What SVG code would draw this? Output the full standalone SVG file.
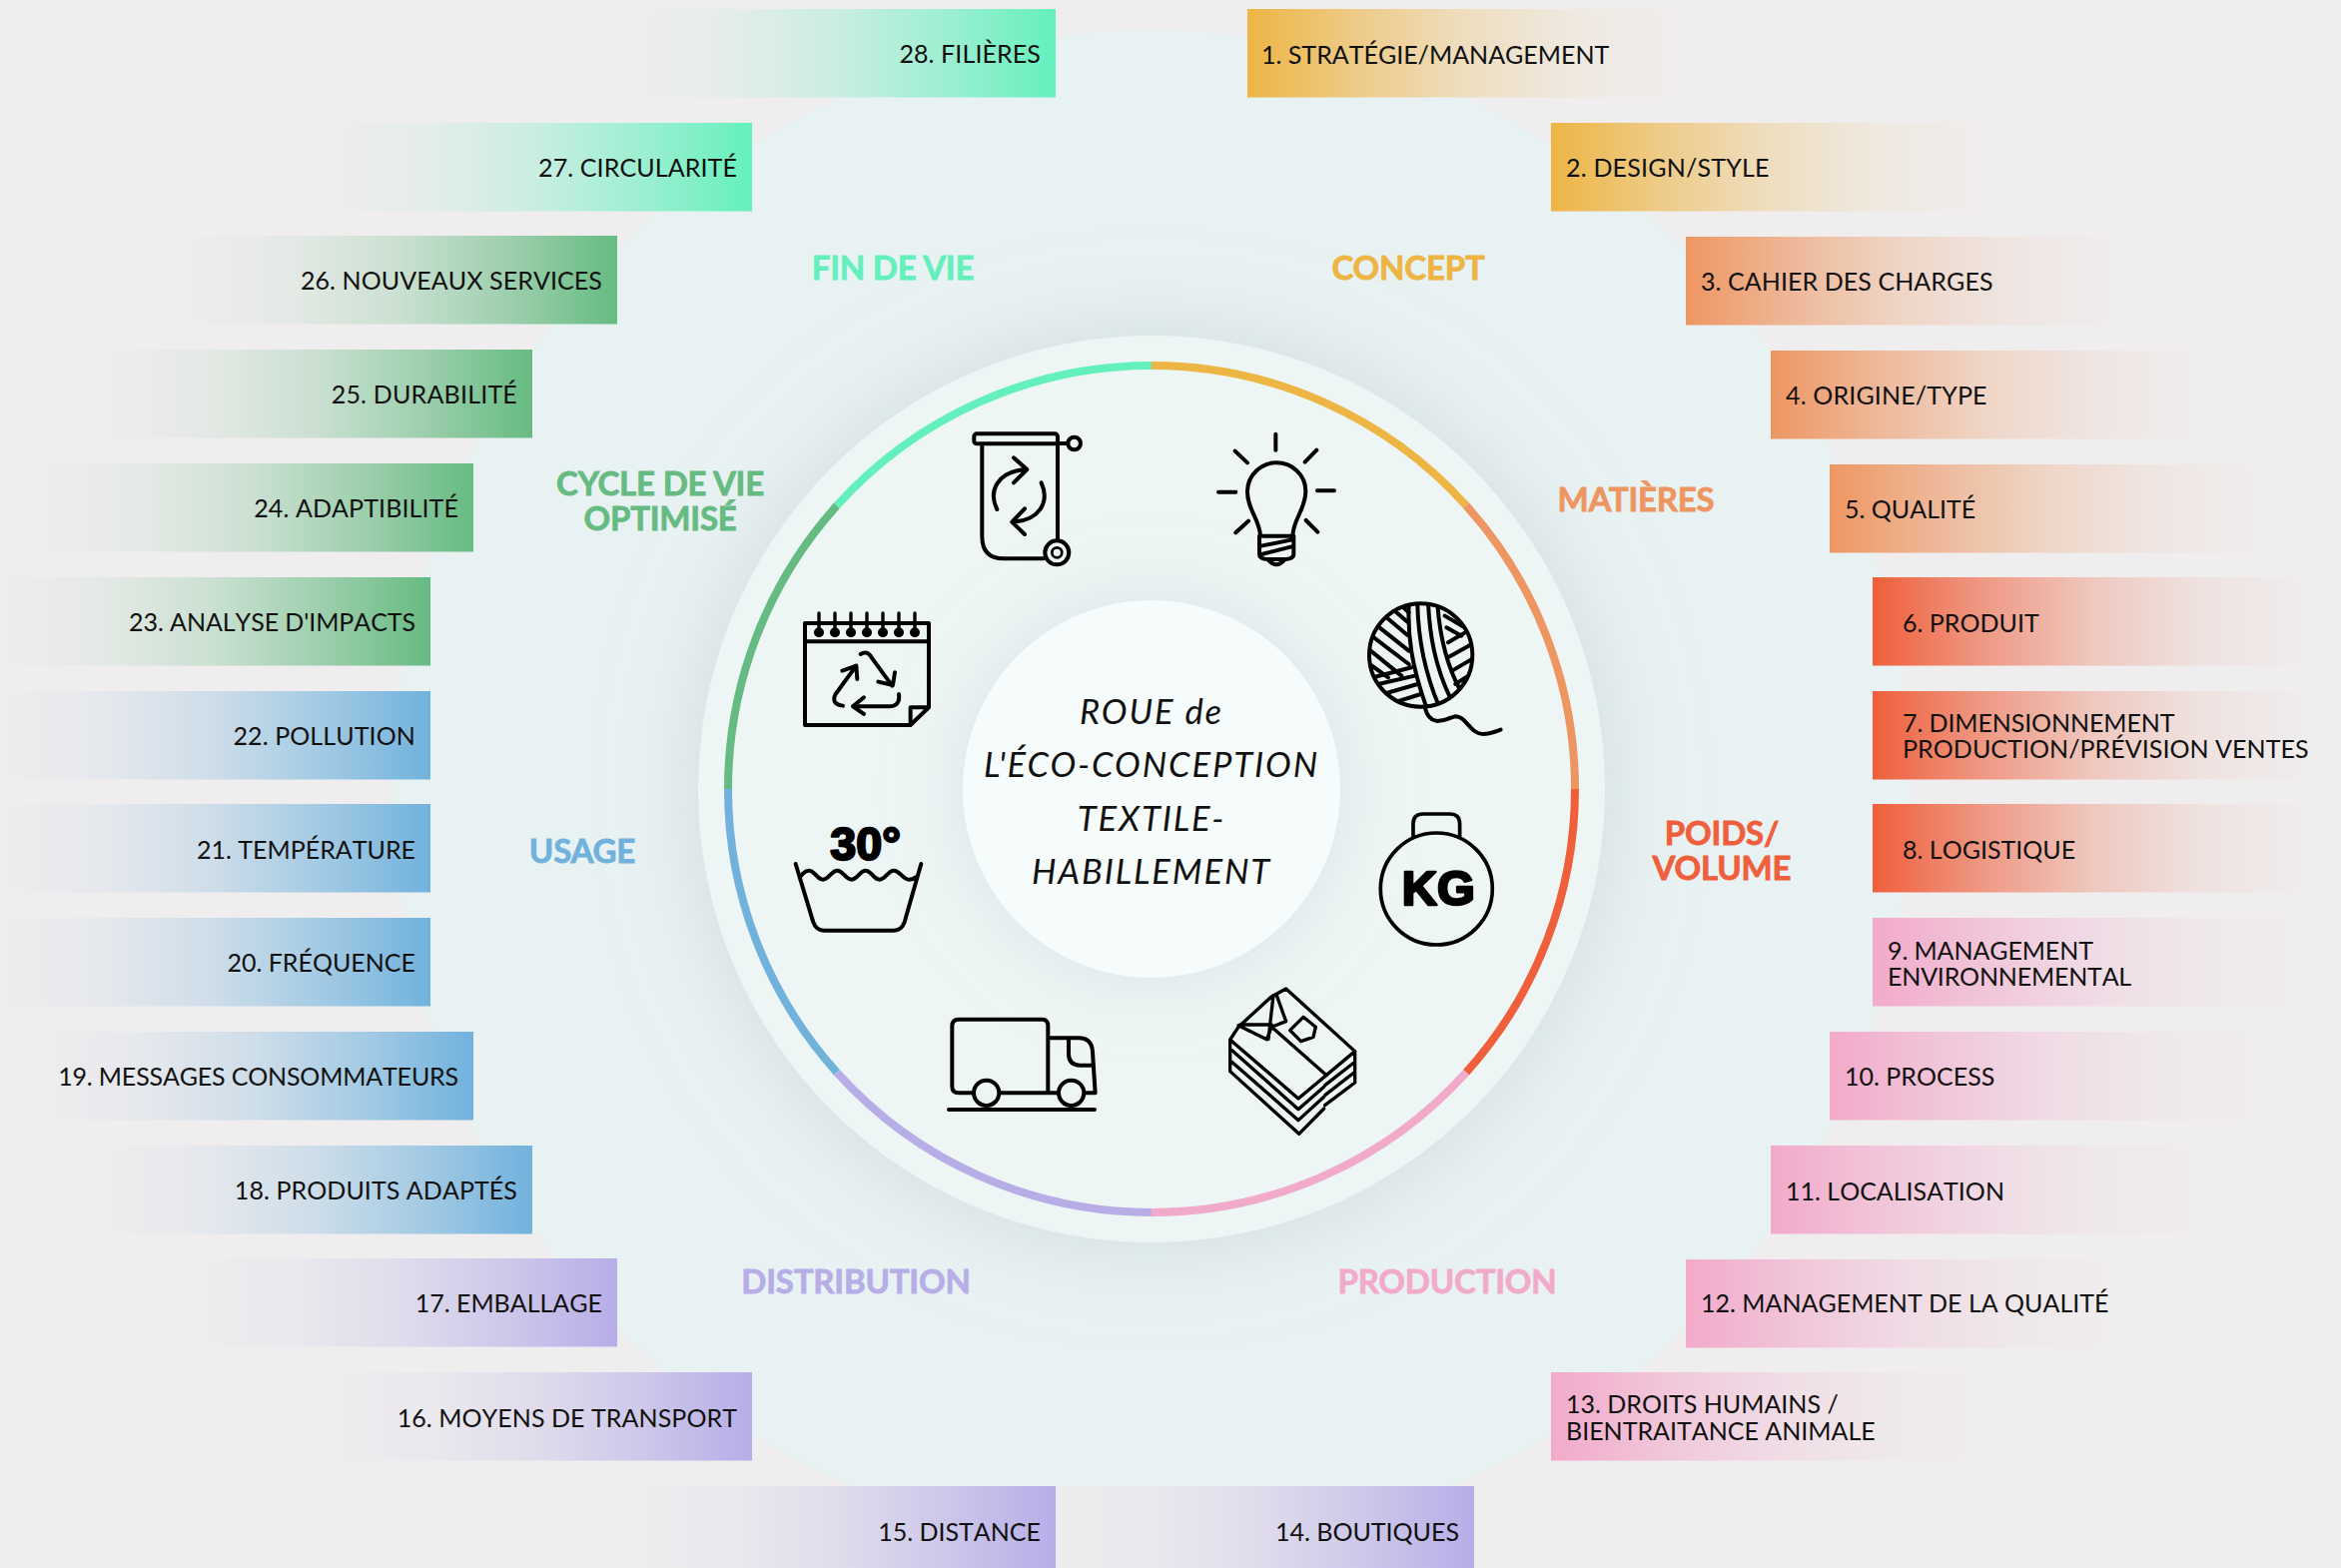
<svg xmlns="http://www.w3.org/2000/svg" width="2344" height="1570" viewBox="0 0 2344 1570">
<defs>
<style>
.bar{font:400 25px Lato,"Liberation Sans",sans-serif;fill:#111;font-kerning:none}
.e{text-anchor:end}
.h{font:700 33px Lato,"Liberation Sans",sans-serif;text-anchor:middle;stroke-width:.8;letter-spacing:-.2px}
.c{font:italic 400 34.5px Lato,"Liberation Sans",sans-serif;text-anchor:middle;fill:#111;letter-spacing:1.9px}
.ic{fill:none;stroke:#000;stroke-linecap:round;stroke-linejoin:round;stroke-width:10}
.arc{fill:none;stroke-width:8}
</style>
<linearGradient id="yR"><stop offset="0" stop-color="#EDB544"/><stop offset=".25" stop-color="#EECB88"/><stop offset=".5" stop-color="#EEDEC0"/><stop offset=".75" stop-color="#EFE9E0"/><stop offset="1" stop-color="#EFEDEE"/></linearGradient>
<linearGradient id="oR"><stop offset="0" stop-color="#EE9662"/><stop offset=".25" stop-color="#EEB99A"/><stop offset=".5" stop-color="#EFD6C8"/><stop offset=".75" stop-color="#EFE6E3"/><stop offset="1" stop-color="#EFEDEE"/></linearGradient>
<linearGradient id="rR"><stop offset="0" stop-color="#EF5F3B"/><stop offset=".25" stop-color="#EF9883"/><stop offset=".5" stop-color="#EFC7BE"/><stop offset=".75" stop-color="#EFE2E0"/><stop offset="1" stop-color="#EFEDEE"/></linearGradient>
<linearGradient id="pR"><stop offset="0" stop-color="#F2AACB"/><stop offset=".25" stop-color="#F1C5D9"/><stop offset=".5" stop-color="#F0DBE5"/><stop offset=".75" stop-color="#EFE8EB"/><stop offset="1" stop-color="#EFEDEE"/></linearGradient>
<linearGradient id="vL" x1="1" x2="0"><stop offset="0" stop-color="#B7AEE8"/><stop offset=".25" stop-color="#CDC7EA"/><stop offset=".5" stop-color="#E0DCEC"/><stop offset=".75" stop-color="#EBE8EE"/><stop offset="1" stop-color="#EFEDEE"/></linearGradient>
<linearGradient id="bL" x1="1" x2="0"><stop offset="0" stop-color="#71B2DD"/><stop offset=".25" stop-color="#A3CAE4"/><stop offset=".5" stop-color="#CDDDE9"/><stop offset=".75" stop-color="#E5E8ED"/><stop offset="1" stop-color="#EFEDEE"/></linearGradient>
<linearGradient id="gL" x1="1" x2="0"><stop offset="0" stop-color="#66BB82"/><stop offset=".25" stop-color="#9DCFAD"/><stop offset=".5" stop-color="#CAE0D1"/><stop offset=".75" stop-color="#E4E9E5"/><stop offset="1" stop-color="#EFEDEE"/></linearGradient>
<linearGradient id="mL" x1="1" x2="0"><stop offset="0" stop-color="#64F0BD"/><stop offset=".25" stop-color="#9CEFD1"/><stop offset=".5" stop-color="#C9EEE1"/><stop offset=".75" stop-color="#E4EDEA"/><stop offset="1" stop-color="#EFEDEE"/></linearGradient>
<filter id="sh" x="-40%" y="-40%" width="180%" height="180%"><feDropShadow dx="0" dy="0" stdDeviation="45" flood-color="#b9c8cc" flood-opacity=".55"/></filter>
<filter id="sh2" x="-60%" y="-60%" width="220%" height="220%"><feDropShadow dx="0" dy="0" stdDeviation="40" flood-color="#b9c8cc" flood-opacity=".4"/></filter>
<clipPath id="yc"><circle cx="668" cy="708" r="155"/></clipPath>
</defs>
<rect width="2344" height="1570" fill="#EFEDEE"/>
<g id="wheel">
<circle cx="1153" cy="790" r="760" fill="#E9F2F3"/>
<circle cx="1153" cy="790" r="454" fill="#EEF6F5" filter="url(#sh)"/>
<circle cx="1153" cy="790" r="189" fill="#F6FBFB" filter="url(#sh2)"/>
</g>
<g id="ring">
<path class="arc" stroke="#EDB544" d="M1153 366A424 424 0 0 1 1468.1 506.3"/>
<path class="arc" stroke="#EE9662" d="M1468.1 506.3A424 424 0 0 1 1577 790"/>
<path class="arc" stroke="#EF5F3B" d="M1577 790A424 424 0 0 1 1468.1 1073.7"/>
<path class="arc" stroke="#F2AACB" d="M1468.1 1073.7A424 424 0 0 1 1153 1214"/>
<path class="arc" stroke="#B7AEE8" d="M1153 1214A424 424 0 0 1 837.9 1073.7"/>
<path class="arc" stroke="#71B2DD" d="M837.9 1073.7A424 424 0 0 1 729 790"/>
<path class="arc" stroke="#66BB82" d="M729 790A424 424 0 0 1 837.9 506.3"/>
<path class="arc" stroke="#64F0BD" d="M837.9 506.3A424 424 0 0 1 1153 366"/>
</g>
<g id="center-label">
<text class="c" x="1153" y="725">ROUE de</text>
<text class="c" x="1153" y="778">L'ÉCO-CONCEPTION</text>
<text class="c" x="1153" y="831.5">TEXTILE-</text>
<text class="c" x="1153" y="884.5">HABILLEMENT</text>
</g>
<g id="headings">
<text class="h" fill="#EDB544" stroke="#EDB544" x="1410" y="280">CONCEPT</text>
<text class="h" fill="#EE9662" stroke="#EE9662" x="1638" y="512">MATIÈRES</text>
<text class="h" fill="#EF5F3B" stroke="#EF5F3B" x="1724" y="846">POIDS/</text>
<text class="h" fill="#EF5F3B" stroke="#EF5F3B" x="1724" y="881">VOLUME</text>
<text class="h" fill="#F2AACB" stroke="#F2AACB" x="1449" y="1295">PRODUCTION</text>
<text class="h" fill="#B7AEE8" stroke="#B7AEE8" x="857" y="1295">DISTRIBUTION</text>
<text class="h" fill="#71B2DD" stroke="#71B2DD" x="583" y="864">USAGE</text>
<text class="h" fill="#66BB82" stroke="#66BB82" x="661" y="496">CYCLE DE VIE</text>
<text class="h" fill="#66BB82" stroke="#66BB82" x="661" y="530.5">OPTIMISÉ</text>
<text class="h" fill="#64F0BD" stroke="#64F0BD" x="894" y="280">FIN DE VIE</text>
</g>
<g id="icon-bin" class="ic" transform="translate(720 380) scale(.3333)">
<rect class="ic" x="766" y="163" width="251" height="30" rx="8" style="stroke-width:12"/>
<path class="ic" style="stroke-width:12" d="M790 195V470Q790 538 855 538H975M1017 195V480M1017 192H1048"/>
<circle class="ic" style="stroke-width:12" cx="1067" cy="192" r="19"/>
<circle class="ic" style="stroke-width:12" cx="1015" cy="520" r="36"/>
<circle class="ic" style="stroke-width:8" cx="1015" cy="520" r="15"/>
<path class="ic" style="stroke-width:12" d="M835 390C810 340 830 275 925 270M885 235L925 270L885 310M968 310C995 370 960 425 880 428M918 388L880 428L918 465"/>
</g>
<g id="icon-bulb" class="ic" transform="translate(1200 420) scale(.3333)">
<path style="stroke-width:12" d="M186 350C184 300 146 270 147 215C148 165 190 130 234 130C280 130 322 165 322 215C322 270 284 300 283 350M183 350H286V405Q286 418 262 420H206Q183 418 183 405ZM188 380L278 362M190 405L280 382M210 422Q234 450 258 422M232 44V92M110 95L147 130M355 92L320 128M60 218H112M357 214H408M150 305L112 340M323 303L358 338"/>
</g>
<g id="icon-yarn" class="ic" transform="translate(1200 420) scale(.3333)">
<circle cx="668" cy="708" r="155" style="stroke-width:12"/>
<g clip-path="url(#yc)" style="stroke-width:12">
<path d="M632 555C628 650 640 740 685 865M658 555C660 650 680 760 722 860M690 550C695 650 710 740 758 840M718 555C725 650 745 740 790 820"/>
<path d="M590 575L628 608M565 595L628 648M540 622L632 695M520 650L632 735M505 685L610 770M500 725L570 775"/>
<path d="M605 555L632 580M740 590L800 625M745 625L790 650"/>
<path d="M750 670L815 632M755 712L830 670M762 755L835 712M772 795L835 755"/>
<path d="M525 775L640 745M540 795L650 770M565 822L658 795M595 848L668 825"/>
</g>
<path style="stroke-width:12" d="M680 865C695 925 735 905 770 892C805 890 815 945 855 945C875 945 890 938 908 932"/>
</g>
<g id="icon-calendar" class="ic" transform="translate(720 380) scale(.3333)">
<path style="stroke-width:12" d="M258 732H630V985L575 1038H258ZM258 787H630M575 1038V985H630"/>
<path style="stroke-width:10" d="M300 702V760M348 702V760M396 702V760M444 702V760M492 702V760M540 702V760M588 702V760"/>
<g fill="#000" stroke="none"><circle cx="300" cy="760" r="15"/><circle cx="348" cy="760" r="15"/><circle cx="396" cy="760" r="15"/><circle cx="444" cy="760" r="15"/><circle cx="492" cy="760" r="15"/><circle cx="540" cy="760" r="15"/><circle cx="588" cy="760" r="15"/></g>
<path style="stroke-width:12" d="M425 825Q445 812 458 835L520 920M478 908L522 918L528 880M540 945Q545 982 510 982H405M435 955L402 982L435 1005M372 980Q335 975 350 945L412 860M370 875L412 860L415 900"/>
</g>
<g id="icon-wash" class="ic" transform="translate(760 780) scale(.3333)">
<path style="stroke-width:12" d="M110 255L163 430Q172 455 195 455H405Q428 455 437 430L487 255M125 292C135 278 142 275 150 275C168 275 174 302 192 302C210 302 217 275 235 275C253 275 260 302 278 302C296 302 302 275 320 275C338 275 344 302 362 302C380 302 387 275 405 275C423 275 432 302 450 302C458 302 465 300 470 295"/>
<text x="214" y="243" font-family="Liberation Sans" font-weight="700" font-size="140" fill="#000" stroke="#000" style="stroke-width:7">30°</text>
</g>
<g id="icon-weight" class="ic" transform="translate(1180 780) scale(.3333)">
<circle cx="775" cy="330" r="168" style="stroke-width:11"/>
<path style="stroke-width:11" d="M705 172V135Q705 105 735 105H815Q845 105 845 135V172"/>
<text x="781" y="378" text-anchor="middle" font-family="Liberation Sans" font-weight="700" font-size="146" fill="#000" stroke="#000" style="stroke-width:8">KG</text>
</g>
<g id="icon-shirts" class="ic" transform="translate(1180 780) scale(.3333)">
<path style="stroke-width:10" d="M323 630L530 818L360 960L155 783L180 745L278 655ZM155 783V810L360 992L437 925M155 815V845L360 1025L437 955M155 848V878L362 1066L437 990M530 818V850L440 920M530 850V880L440 950M530 880V912L440 980M280 745L445 890M180 740L265 782L280 745L323 728L295 650M285 650L270 782M185 738H280M375 715L412 745L405 775L368 788L335 755Z"/>
</g>
<g id="icon-truck" class="ic" transform="translate(930 1000) scale(.3333)">
<path style="stroke-width:12" d="M132 283H90Q70 283 70 263V82Q70 62 90 62H340Q358 62 358 82V283M215 283H390M358 118H450Q490 118 492 160L500 283H468M420 118V165Q420 200 455 200H495M60 333H498"/>
<circle style="stroke-width:12" cx="173" cy="283" r="38"/>
<circle style="stroke-width:12" cx="428" cy="283" r="38"/>
</g>
<g id="n1"><rect fill="url(#yR)" x="1249" y="9" width="438" height="88.5"/><text class="bar" x="1263" y="64">1. STRATÉGIE/MANAGEMENT</text></g>
<g id="n2"><rect fill="url(#yR)" x="1553" y="123" width="438" height="88.5"/><text class="bar" x="1568" y="177" letter-spacing=".2">2. DESIGN/STYLE</text></g>
<g id="n3"><rect fill="url(#oR)" x="1688" y="237" width="438" height="88.5"/><text class="bar" x="1703" y="291" letter-spacing=".07">3. CAHIER DES CHARGES</text></g>
<g id="n4"><rect fill="url(#oR)" x="1773" y="351" width="438" height="88.5"/><text class="bar" x="1788" y="405" letter-spacing=".15">4. ORIGINE/TYPE</text></g>
<g id="n5"><rect fill="url(#oR)" x="1832" y="465" width="438" height="88.5"/><text class="bar" x="1847" y="519">5. QUALITÉ</text></g>
<g id="n6"><rect fill="url(#rR)" x="1875" y="578" width="438" height="88.5"/><text class="bar" x="1905" y="633">6. PRODUIT</text></g>
<g id="n7"><rect fill="url(#rR)" x="1875" y="692" width="438" height="88.5"/><text class="bar" x="1905" y="733" letter-spacing="-.1">7. DIMENSIONNEMENT</text><text class="bar" x="1905" y="759" letter-spacing=".05">PRODUCTION/PRÉVISION VENTES</text></g>
<g id="n8"><rect fill="url(#rR)" x="1875" y="805" width="438" height="88.5"/><text class="bar" x="1905" y="860">8. LOGISTIQUE</text></g>
<g id="n9"><rect fill="url(#pR)" x="1875" y="919" width="438" height="88.5"/><text class="bar" x="1890" y="961" letter-spacing="-.1">9. MANAGEMENT</text><text class="bar" x="1890" y="987" letter-spacing="-.2">ENVIRONNEMENTAL</text></g>
<g id="n10"><rect fill="url(#pR)" x="1832" y="1033" width="438" height="88.5"/><text class="bar" x="1847" y="1087">10. PROCESS</text></g>
<g id="n11"><rect fill="url(#pR)" x="1773" y="1147" width="438" height="88.5"/><text class="bar" x="1788" y="1202">11. LOCALISATION</text></g>
<g id="n12"><rect fill="url(#pR)" x="1688" y="1261" width="438" height="88.5"/><text class="bar" x="1703" y="1314">12. MANAGEMENT DE LA QUALITÉ</text></g>
<g id="n13"><rect fill="url(#pR)" x="1553" y="1374" width="438" height="88.5"/><text class="bar" x="1568" y="1415">13. DROITS HUMAINS /</text><text class="bar" x="1568" y="1442">BIENTRAITANCE ANIMALE</text></g>
<g id="n14"><rect fill="url(#vL)" x="1043" y="1488" width="433" height="88.5"/><text class="bar e" x="1461" y="1543">14. BOUTIQUES</text></g>
<g id="n15"><rect fill="url(#vL)" x="624" y="1488" width="433" height="88.5"/><text class="bar e" x="1042" y="1543">15. DISTANCE</text></g>
<g id="n16"><rect fill="url(#vL)" x="320" y="1374" width="433" height="88.5"/><text class="bar e" x="738" y="1429" letter-spacing=".06">16. MOYENS DE TRANSPORT</text></g>
<g id="n17"><rect fill="url(#vL)" x="185" y="1260" width="433" height="88.5"/><text class="bar e" x="603" y="1314">17. EMBALLAGE</text></g>
<g id="n18"><rect fill="url(#bL)" x="100" y="1147" width="433" height="88.5"/><text class="bar e" x="518" y="1201" letter-spacing=".07">18. PRODUITS ADAPTÉS</text></g>
<g id="n19"><rect fill="url(#bL)" x="41" y="1033" width="433" height="88.5"/><text class="bar e" x="459" y="1087" letter-spacing="-.17">19. MESSAGES CONSOMMATEURS</text></g>
<g id="n20"><rect fill="url(#bL)" x="-2" y="919" width="433" height="88.5"/><text class="bar e" x="416" y="973">20. FRÉQUENCE</text></g>
<g id="n21"><rect fill="url(#bL)" x="-2" y="805" width="433" height="88.5"/><text class="bar e" x="416" y="860">21. TEMPÉRATURE</text></g>
<g id="n22"><rect fill="url(#bL)" x="-2" y="692" width="433" height="88.5"/><text class="bar e" x="416" y="746" letter-spacing=".1">22. POLLUTION</text></g>
<g id="n23"><rect fill="url(#gL)" x="-2" y="578" width="433" height="88.5"/><text class="bar e" x="416" y="632" letter-spacing="-.07">23. ANALYSE D'IMPACTS</text></g>
<g id="n24"><rect fill="url(#gL)" x="41" y="464" width="433" height="88.5"/><text class="bar e" x="459" y="518" letter-spacing=".1">24. ADAPTIBILITÉ</text></g>
<g id="n25"><rect fill="url(#gL)" x="100" y="350" width="433" height="88.5"/><text class="bar e" x="518" y="404" letter-spacing=".2">25. DURABILITÉ</text></g>
<g id="n26"><rect fill="url(#gL)" x="185" y="236" width="433" height="88.5"/><text class="bar e" x="603" y="290" letter-spacing=".08">26. NOUVEAUX SERVICES</text></g>
<g id="n27"><rect fill="url(#mL)" x="320" y="123" width="433" height="88.5"/><text class="bar e" x="738" y="177" letter-spacing=".1">27. CIRCULARITÉ</text></g>
<g id="n28"><rect fill="url(#mL)" x="624" y="9" width="433" height="88.5"/><text class="bar e" x="1042" y="63" letter-spacing=".1">28. FILIÈRES</text></g>
<g id="connectors"></g>
</svg>
